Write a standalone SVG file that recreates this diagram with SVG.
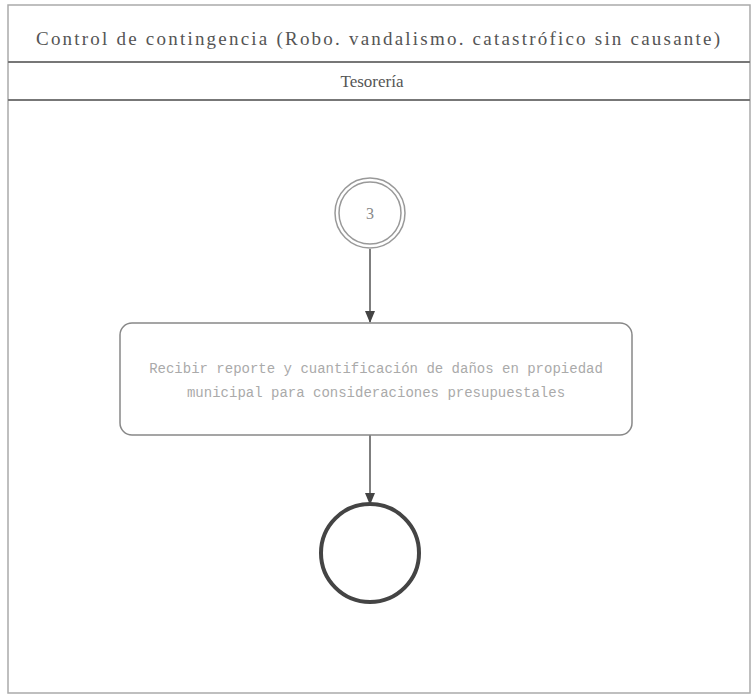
<svg xmlns="http://www.w3.org/2000/svg" width="753" height="698" viewBox="0 0 753 698">
<defs>
<style>
.frame{fill:#fff;stroke:#aaa;stroke-width:1.5}
.sep{stroke:#777;stroke-width:2}
.hdr{font-family:"Liberation Serif","Times New Roman",serif;fill:#555;text-anchor:middle}
.lbl{font-family:"Liberation Mono","Courier New",monospace;fill:#aaa;font-size:14px;text-anchor:middle}
.edge{stroke:#555;stroke-width:1.5;fill:none}
</style>
<marker id="arr" markerWidth="12" markerHeight="10" refX="11" refY="5" orient="auto" markerUnits="userSpaceOnUse">
<path d="M0,0 L12,5 L0,10 Z" fill="#444"/>
</marker>
</defs>
<rect width="753" height="698" fill="#fff"/>
<g id="pool">
<rect class="frame" x="8" y="5" width="742" height="688"/>
<line class="sep" x1="8" y1="62" x2="750" y2="62"/>
<line class="sep" x1="8" y1="100" x2="750" y2="100"/>
<text class="hdr" x="378" y="45" font-size="19" textLength="684" lengthAdjust="spacing">Control de contingencia (Robo. vandalismo. catastrófico sin causante)</text>
<text class="hdr" x="372" y="87" font-size="17">Tesorería</text>
</g>
<g id="connectors">
<line class="edge" x1="370" y1="249" x2="370" y2="322" marker-end="url(#arr)"/>
<line class="edge" x1="370" y1="435" x2="370" y2="504" marker-end="url(#arr)"/>
</g>
<g id="start">
<circle cx="370" cy="213" r="35" fill="#fff" stroke="#999" stroke-width="1.5"/>
<circle cx="370" cy="213" r="31" fill="none" stroke="#999" stroke-width="1.5"/>
<text x="370" y="219" font-family="Liberation Serif, serif" font-size="16" fill="#888" text-anchor="middle">3</text>
</g>
<g id="task">
<rect x="120" y="323" width="512" height="112" rx="12" fill="#fff" stroke="#888" stroke-width="1.5"/>
<text class="lbl" x="376" y="373">Recibir reporte y cuantificación de daños en propiedad</text>
<text class="lbl" x="376" y="397">municipal para consideraciones presupuestales</text>
</g>
<g id="end">
<circle cx="370" cy="553" r="49" fill="#fff" stroke="#444" stroke-width="4"/>
</g>
</svg>
